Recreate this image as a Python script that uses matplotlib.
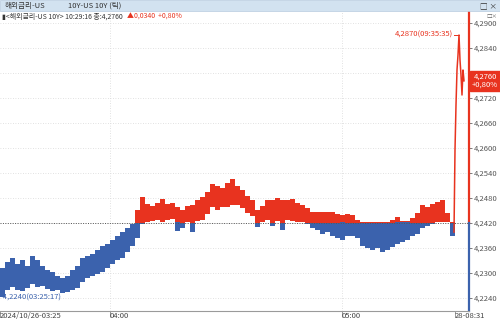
import numpy as np
import matplotlib
matplotlib.use("Agg")
import matplotlib.pyplot as plt
from matplotlib.patches import Rectangle
import matplotlib.transforms as mtransforms

plt.rcParams['font.family'] = ['Noto Sans CJK KR', 'DejaVu Sans']

# tick-bucket data (5 ticks per bucket), prices
base_price = 4.2420
bucket_hi = [4.2311, 4.2325, 4.2335, 4.2320, 4.2330, 4.2316, 4.2340, 4.2330, 4.2316, 4.2306,
             4.2301, 4.2292, 4.2287, 4.2292, 4.2306, 4.2316, 4.2335, 4.2340, 4.2344, 4.2354,
             4.2364, 4.2368, 4.2378, 4.2388, 4.2397, 4.2407, 4.2416, 4.2450, 4.2481, 4.2464,
             4.2460, 4.2467, 4.2476, 4.2464, 4.2467, 4.2457, 4.2450, 4.2460, 4.2462, 4.2474,
             4.2481, 4.2493, 4.2512, 4.2508, 4.2503, 4.2515, 4.2524, 4.2508, 4.2498, 4.2484,
             4.2474, 4.2450, 4.2460, 4.2474, 4.2474, 4.2479, 4.2474, 4.2474, 4.2476, 4.2467,
             4.2462, 4.2455, 4.2445, 4.2445, 4.2445, 4.2445, 4.2445, 4.2440, 4.2438, 4.2440,
             4.2438, 4.2426, 4.2421, 4.2421, 4.2421, 4.2421, 4.2421, 4.2421, 4.2426, 4.2433,
             4.2424, 4.2424, 4.2431, 4.2443, 4.2462, 4.2457, 4.2464, 4.2469, 4.2474, 4.2443,
             4.2421]
bucket_lo = [4.2241, 4.2258, 4.2265, 4.2258, 4.2256, 4.2263, 4.2272, 4.2265, 4.2268, 4.2260,
             4.2256, 4.2258, 4.2251, 4.2253, 4.2258, 4.2263, 4.2277, 4.2287, 4.2292, 4.2296,
             4.2301, 4.2311, 4.2320, 4.2330, 4.2335, 4.2349, 4.2364, 4.2383, 4.2416, 4.2421,
             4.2424, 4.2426, 4.2421, 4.2426, 4.2428, 4.2400, 4.2407, 4.2421, 4.2397, 4.2424,
             4.2426, 4.2440, 4.2457, 4.2450, 4.2457, 4.2457, 4.2462, 4.2462, 4.2455, 4.2443,
             4.2436, 4.2409, 4.2421, 4.2426, 4.2412, 4.2424, 4.2402, 4.2426, 4.2424, 4.2421,
             4.2421, 4.2416, 4.2407, 4.2402, 4.2392, 4.2397, 4.2388, 4.2383, 4.2378, 4.2388,
             4.2388, 4.2383, 4.2364, 4.2359, 4.2354, 4.2359, 4.2349, 4.2354, 4.2361, 4.2368,
             4.2373, 4.2378, 4.2388, 4.2392, 4.2407, 4.2412, 4.2416, 4.2421, 4.2421, 4.2421,
             4.2388]
ticks_per_bucket = 5

# Monday open spike (single ticks)
spike_start = 454
spike_price = [4.2397, 4.2594, 4.2702, 4.2786, 4.2822, 4.2870, 4.2810, 4.2774, 4.2726, 4.2786, 4.2760]

x_tick_pos = [0, 110, 342, 455]
x_tick_labels = ['2024/10/26-03:25', '04:00', '05:00', '28-08:31']
y_ticks = [4.2240, 4.2300, 4.2360, 4.2420, 4.2480, 4.2540, 4.2600, 4.2660, 4.2720, 4.2780, 4.2840, 4.2900]

last_price = 4.2760
high_price, high_time = 4.2870, '09:35:35'
low_price, low_time = 4.2240, '03:25:17'

red = '#e8331f'
blue = '#3b62ad'

W, H = 500, 323
fig = plt.figure(figsize=(W / 100, H / 100), dpi=100)
fig.patch.set_facecolor('white')
ax = fig.add_axes([0, 12 / H, 469 / W, 299 / H])
x_max = 469
y_lo, y_hi = 4.22076, 4.29252
ax.set_xlim(0, x_max)
ax.set_ylim(y_lo, y_hi)

# grid
for v in y_ticks:
    ax.axhline(v, color='#d8d8d8', lw=0.6, ls=(0, (1, 2)), zorder=0)
for xp in x_tick_pos[1:3]:
    ax.axvline(xp, color='#d8d8d8', lw=0.6, ls=(0, (1, 2)), zorder=0)

hi = np.array(bucket_hi)
lo = np.array(bucket_lo)
xb = np.arange(len(hi)) * ticks_per_bucket
r_lo = np.maximum(lo, base_price)
r_hi = np.maximum(hi, base_price)
b_lo = np.minimum(lo, base_price)
b_hi = np.minimum(hi, base_price)
ax.bar(xb, r_hi - r_lo, bottom=r_lo, width=ticks_per_bucket, align='edge', color=red, lw=0, zorder=2)
ax.bar(xb, b_hi - b_lo, bottom=b_lo, width=ticks_per_bucket, align='edge', color=blue, lw=0, zorder=2)

xs = spike_start + np.arange(len(spike_price))
ax.plot(xs, spike_price, color=red, lw=1.1, zorder=3)

# base line
ax.axhline(base_price, color='#555555', lw=0.7, ls=(0, (1, 1.5)), zorder=4)

# high / low markers
px = xs[int(np.argmax(spike_price))]
ax.plot([px - 5, px], [high_price, high_price], color=red, lw=0.7)
ax.text(px - 6, high_price, f'{high_price:.4f}'.replace('.', ',') + f'({high_time})',
        color=red, fontsize=5.5, ha='right', va='center')
ax.text(0.5, low_price, f'-{low_price:.4f}'.replace('.', ',') + f'({low_time})',
        color=blue, fontsize=5.5, ha='left', va='center')

# right axis line coloured by base
frac = (base_price - y_lo) / (y_hi - y_lo)
ax.axvline(x_max, ymin=frac, ymax=1, color=red, lw=1.6, clip_on=False)
ax.axvline(x_max, ymin=0, ymax=frac, color=blue, lw=1.6, clip_on=False)

for s in ['top', 'left', 'right']:
    ax.spines[s].set_visible(False)
ax.spines['bottom'].set_color('#9a9a9a')
ax.spines['bottom'].set_linewidth(0.8)

ax.yaxis.tick_right()
ax.set_yticks(y_ticks)
# 4,2780 sits under the current-price box
ax.set_yticklabels(['' if v == 4.2780 else f'{v:.4f}'.replace('.', ',') for v in y_ticks])
ax.tick_params(axis='y', length=2, width=0.6, colors='#666666', labelsize=5.5, pad=1.5, labelcolor='#555555')
ax.set_xticks(x_tick_pos)
ax.set_xticklabels(x_tick_labels)
shift = mtransforms.ScaledTranslation(1 / 100, 0, fig.dpi_scale_trans)
for t in ax.get_xticklabels():
    t.set_ha('left')
    t.set_transform(t.get_transform() + shift)
ax.tick_params(axis='x', length=4, width=0.6, colors='#888888', labelsize=5.5, pad=-3, labelcolor='#444444')

# current price box
ax.annotate(f'{last_price:.4f}'.replace('.', ',') + '\n+0,80%', xy=(x_max, last_price), xytext=(x_max + 16, last_price),
            ha='center', va='center', fontsize=5.5, color='white', annotation_clip=False, linespacing=1.0,
            bbox=dict(boxstyle='square,pad=0.25', fc=red, ec=red), zorder=10)

# header bar
fig.patches.append(Rectangle((0, 1 - 11 / H), 1, 11 / H, transform=fig.transFigure,
                             fc='#d2e2f0', ec='#b8cbe0', lw=0.5))
fig.text(5 / W, 1 - 6 / H, '해외금리-US', fontsize=5.5, color='#333333', va='center')
fig.text(68 / W, 1 - 6 / H, '10Y-US 10Y (틱)', fontsize=5.5, color='#333333', va='center')
fig.text(497 / W, 1 - 6 / H, '□ ×', fontsize=5.5, color='#333333', va='center', ha='right')
info = fig.text(2 / W, 1 - 17 / H, '▮<해외금리-US 10Y> 10:29:16 종:4,2760', fontsize=5, color='#333333', va='center')
fig.texts.append(plt.Annotation('▲0,0340  +0,80%', xy=(1, 0.5), xycoords=info, xytext=(3, 0),
                                textcoords='offset points', fontsize=5, color=red, va='center'))
fig.texts[-1].set_figure(fig)
fig.text(497 / W, 1 - 16 / H, '□×', fontsize=4, color='#666666', va='center', ha='right')

fig.savefig('out.png', dpi=100)
